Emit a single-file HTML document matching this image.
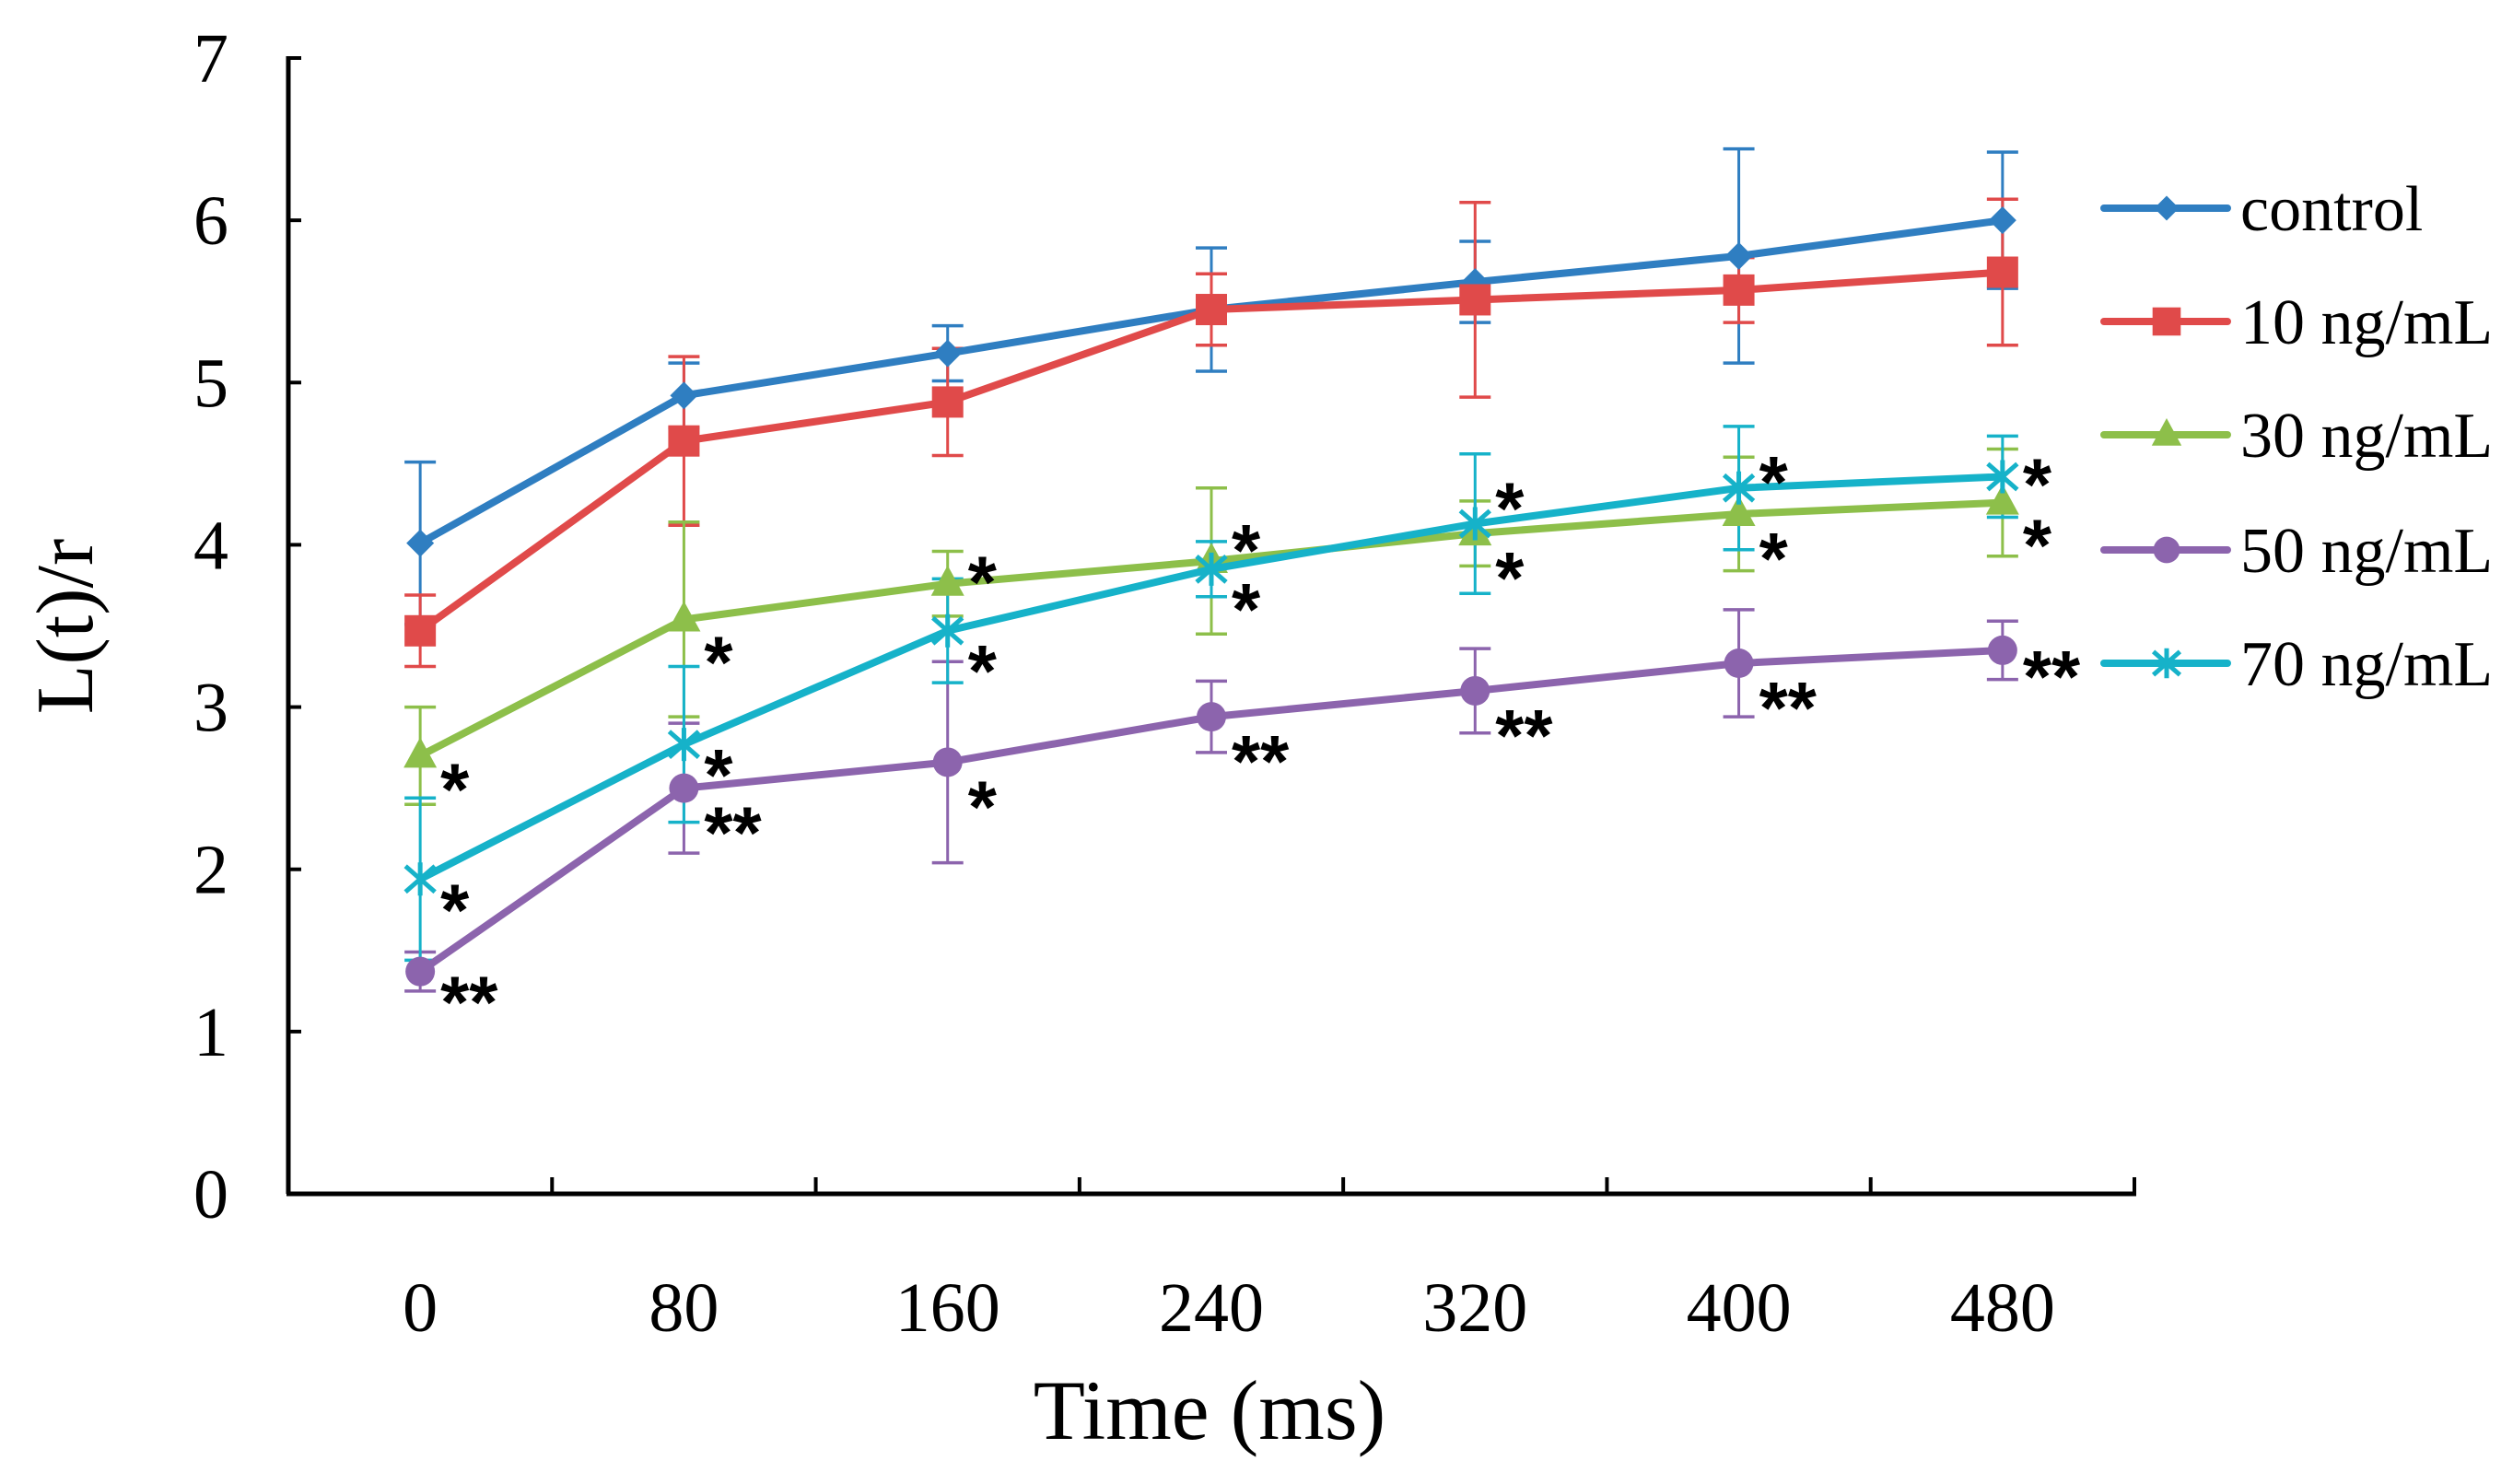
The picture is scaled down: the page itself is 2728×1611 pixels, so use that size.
<!DOCTYPE html>
<html><head><meta charset="utf-8">
<style>
html,body{margin:0;padding:0;background:#fff;}
svg{display:block;}
text{font-family:"Liberation Serif",serif;fill:#000;}
.star{font-family:"Liberation Sans",sans-serif;font-weight:bold;}
</style></head>
<body>
<svg id="chart" width="2728" height="1611" viewBox="0 0 2728 1611" xmlns="http://www.w3.org/2000/svg"></svg>
<script>
const categories = ["0","80","160","240","320","400","480"];
const yTicks = [0,1,2,3,4,5,6,7];
const seriesNames = ["control","10 ng/mL","30 ng/mL","50 ng/mL","70 ng/mL"];
const controlValues = [4.01,4.92,5.18,5.45,5.62,5.78,6.0];
const controlErr = [0.5,0.2,0.17,0.38,0.25,0.66,0.42];
const c10Values = [3.47,4.64,4.88,5.45,5.51,5.57,5.68];
const c10Err = [0.22,0.52,0.33,0.22,0.6,0.2,0.45];
const c30Values = [2.7,3.54,3.76,3.9,4.07,4.19,4.26];
const c30Err = [0.3,0.6,0.2,0.45,0.2,0.35,0.33];
const c50Values = [1.37,2.5,2.66,2.94,3.1,3.27,3.35];
const c50Err = [0.12,0.4,0.62,0.22,0.26,0.33,0.18];
const c70Values = [1.94,2.77,3.47,3.85,4.13,4.35,4.42];
const c70Err = [0.5,0.48,0.32,0.17,0.43,0.38,0.25];
const c30Marks = ["*","*","*","*","*","*","*"];
const c50Marks = ["**","**","*","**","**","**","**"];
const c70Marks = ["*","*","*","*","*","*","*"];

const svg = document.getElementById('chart');
const NS = 'http://www.w3.org/2000/svg';
const X0 = 313, X1 = 2317, Y0 = 1296, Y7 = 63;
const bw = (X1 - X0) / categories.length;
function xScale(i){ return X0 + bw * (i + 0.5); }
function yScale(v){ return Y0 - (v / 7) * (Y0 - Y7); }
function mk(tag, attrs, parent){
  const e = document.createElementNS(NS, tag);
  for (const k in attrs) e.setAttribute(k, attrs[k]);
  (parent || svg).appendChild(e);
  return e;
}

const axes = mk('g', {});


mk('line', {x1:X0, y1:Y7-2, x2:X0, y2:Y0, stroke:'#000', 'stroke-width':5}, axes);
mk('line', {x1:X0-2, y1:Y0, x2:X1+2, y2:Y0, stroke:'#000', 'stroke-width':5}, axes);
yTicks.forEach(function(t){
  const y = yScale(t);
  mk('line', {x1:X0, y1:y, x2:X0+14, y2:y, stroke:'#000', 'stroke-width':4}, axes);
  const tx = mk('text', {x:248, y:y+26, 'font-size':76, 'text-anchor':'end'}, axes);
  tx.textContent = t;
  
  
});
for (let i = 1; i <= categories.length; i++){
  const x = X0 + bw * i;
  mk('line', {x1:x, y1:Y0, x2:x, y2:Y0-18, stroke:'#000', 'stroke-width':4}, axes);
}
categories.forEach(function(c, i){
  const tx = mk('text', {x:xScale(i), y:1445, 'font-size':76, 'text-anchor':'middle'}, axes);
  tx.textContent = c;
  
  
});
const xt = mk('text', {x:1313, y:1562, 'font-size':92, 'text-anchor':'middle'});
xt.textContent = 'Time (ms)';


const yt = mk('text', {x:0, y:0, 'font-size':88, 'text-anchor':'middle', transform:'translate(100,680) rotate(-90)'});
yt.textContent = 'L(t)/r';



const series = [
  {name:seriesNames[0], vals:controlValues, err:controlErr, color:'#2f7ec1', marker:'diamond', key:'control'},
  {name:seriesNames[1], vals:c10Values, err:c10Err, color:'#e04a4a', marker:'square', key:'10'},
  {name:seriesNames[2], vals:c30Values, err:c30Err, color:'#8dbf4a', marker:'triangle', key:'30'},
  {name:seriesNames[3], vals:c50Values, err:c50Err, color:'#8c64ad', marker:'circle', key:'50'},
  {name:seriesNames[4], vals:c70Values, err:c70Err, color:'#16b2c9', marker:'star', key:'70'}
];

function marker(type, x, y, color, g, scale){
  const s = scale || 1;
  let e;
  if (type === 'diamond') e = mk('polygon', {points:[x,y-15*s, x+15*s,y, x,y+15*s, x-15*s,y].join(','), fill:color}, g);
  else if (type === 'square') e = mk('rect', {x:x-17*s, y:y-17*s, width:34*s, height:34*s, fill:color}, g);
  else if (type === 'triangle') e = mk('polygon', {points:[x,y-20*s, x+18*s,y+13*s, x-18*s,y+13*s].join(','), fill:color}, g);
  else if (type === 'circle') e = mk('circle', {cx:x, cy:y, r:16*s, fill:color}, g);
  else {
    e = mk('path', {d:'M'+(x-16*s)+','+(y-14*s)+'L'+(x+16*s)+','+(y+14*s)+'M'+(x+16*s)+','+(y-14*s)+'L'+(x-16*s)+','+(y+14*s)+'M'+x+','+(y-18*s)+'L'+x+','+(y+18*s), stroke:color, 'stroke-width':5, fill:'none'}, g);
  }
  return e;
}

series.forEach(function(s){
  const g = mk('g', {});
  
  
  s.vals.forEach(function(v, i){
    const x = xScale(i), yt = yScale(v + s.err[i]), yb = yScale(v - s.err[i]);
    mk('line', {x1:x, y1:yt, x2:x, y2:yb, stroke:s.color, 'stroke-width':3}, g);
    mk('line', {x1:x-17, y1:yt, x2:x+17, y2:yt, stroke:s.color, 'stroke-width':3.5}, g);
    mk('line', {x1:x-17, y1:yb, x2:x+17, y2:yb, stroke:s.color, 'stroke-width':3.5}, g);
  });
});
series.forEach(function(s){
  const g = mk('g', {});
  
  
  const pts = s.vals.map(function(v, i){ return xScale(i) + ',' + yScale(v); }).join(' ');
  mk('polyline', {points:pts, fill:'none', stroke:s.color, 'stroke-width':8, 'stroke-linejoin':'round'}, g);
  s.vals.forEach(function(v, i){
    const m = marker(s.marker, xScale(i), yScale(v), s.color, g);
    
    
  });
});

function stars(marks, vals, dy){
  marks.forEach(function(m, i){
    const t = mk('text', {x:xScale(i) + 22, y:yScale(vals[i]) + dy[i] + 46, 'font-size':80, 'class':'star'});
    t.textContent = m;
    
    
  });
}
stars(c30Marks, c30Values, [18,28,-20,-30,30,30,28]);
stars(c70Marks, c70Values, [15,15,25,25,-35,-25,-10]);
stars(c50Marks, c50Values, [15,30,30,30,30,30,10]);

const lg = mk('g', {});


const legendY = [226, 349, 472, 597, 720];
series.forEach(function(s, i){
  const y = legendY[i];
  const e = mk('g', {}, lg);
  
  
  mk('line', {x1:2284, y1:y, x2:2418, y2:y, stroke:s.color, 'stroke-width':8, 'stroke-linecap':'round'}, e);
  marker(s.marker, 2352, y, s.color, e, 0.9);
  const t = mk('text', {x:2432, y:y+24, 'font-size':70}, e);
  t.textContent = s.name;
});
</script>
</body></html>
